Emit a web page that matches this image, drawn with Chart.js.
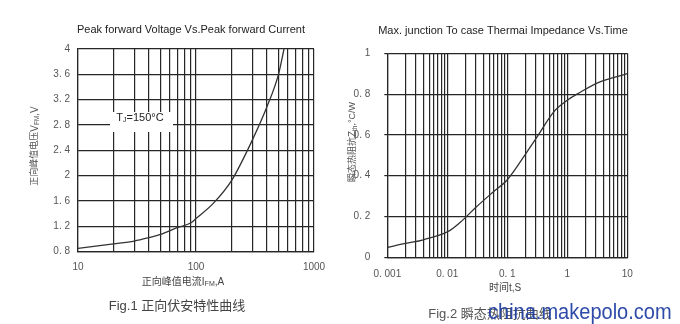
<!DOCTYPE html>
<html>
<head>
<meta charset="utf-8">
<script src="https://cdn.jsdelivr.net/npm/chart.js@4"></script>
<style>
  body { margin: 0; background: #fff; }
  #wrap { position: relative; width: 680px; height: 324px; overflow: hidden; }
  canvas { position: absolute; top: 0; }
</style>
</head>
<body>
<div id="wrap">
  <canvas id="chart-vf" width="340" height="324" style="left:0"></canvas>
  <canvas id="chart-zth" width="340" height="324" style="left:340px"></canvas>
</div>
<script>
// Fig.1 forward current (A) vs peak forward voltage (V), Tj=150C
var currentA = [10, 20, 30, 40, 50, 70, 90, 100, 140, 200, 300, 400, 500, 557];
var voltageV = [0.85, 0.92, 0.965, 1.02, 1.07, 1.18, 1.25, 1.32, 1.56, 1.92, 2.56, 3.09, 3.6, 4.0];

// Fig.2 time (s) vs transient thermal impedance (C/W)
var timeS = [0.001, 0.002, 0.004, 0.01, 0.0165, 0.03, 0.058, 0.1, 0.2, 0.33, 0.6, 1, 1.45, 3.5, 10];
var zthCW = [0.048, 0.068, 0.086, 0.125, 0.172, 0.245, 0.32, 0.38, 0.505, 0.6, 0.714, 0.77, 0.80, 0.86, 0.90];

// tick positions and labels
var vfYTicks = [0.8, 1.2, 1.6, 2, 2.4, 2.8, 3.2, 3.6, 4];
var vfYLabels = ["0. 8", "1. 2", "1. 6", "2", "2. 4", "2. 8", "3. 2", "3. 6", "4"];
var vfXTicks = [10, 20, 30, 40, 50, 60, 70, 80, 90, 100, 200, 300, 400, 500, 600, 700, 800, 900, 1000];
var vfXLabelVals = [10, 100, 1000];
var vfXLabels = ["10", "100", "1000"];

var zthYTicks = [0, 0.2, 0.4, 0.6, 0.8, 1];
var zthYLabels = ["0", "0. 2", "0. 4", "0. 6", "0. 8", "1"];
var zthXTicks = [
  0.001, 0.002, 0.003, 0.004, 0.005, 0.006, 0.007, 0.008, 0.009,
  0.01, 0.02, 0.03, 0.04, 0.05, 0.06, 0.07, 0.08, 0.09,
  0.1, 0.2, 0.3, 0.4, 0.5, 0.6, 0.7, 0.8, 0.9,
  1, 2, 3, 4, 5, 6, 7, 8, 9, 10
];
var zthXLabelVals = [0.001, 0.01, 0.1, 1, 10];
var zthXLabels = ["0. 001", "0. 01", "0. 1", "1", "10"];

var gridColor = "#262626";
var gridWidth = 1.2;
var tickFont = { family: "Liberation Sans", size: 10 };
var FONT = "'Liberation Sans', 'Noto Sans CJK SC'";

// draws text pieces in a row, some of them as subscripts
function drawRich(ctx, x, y, parts, color) {
  var total = 0;
  parts.forEach(function (p) {
    ctx.font = p.s + "px " + FONT;
    p.w = ctx.measureText(p.t).width;
    total += p.w;
  });
  var cx = x - total / 2;
  ctx.fillStyle = color;
  ctx.textBaseline = "middle";
  ctx.textAlign = "left";
  parts.forEach(function (p) {
    ctx.font = p.s + "px " + FONT;
    ctx.fillText(p.t, cx, y + (p.sub ? 2.5 : 0));
    cx += p.w;
  });
}

function textPlugin(id, drawFn) {
  return { id: id, afterDraw: function (chart) {
    var ctx = chart.ctx;
    ctx.save();
    drawFn(ctx, chart);
    ctx.restore();
  } };
}

function setTicks(list) {
  return function (scale) {
    scale.ticks = list.map(function (v) { return { value: v }; });
  };
}

function fixSize(prop, size) {
  return function (scale) { scale[prop] = size; };
}

var vfText = textPlugin("vfText", function (ctx) {
  ctx.font = "11px " + FONT;
  ctx.fillStyle = "#222";
  ctx.textAlign = "center";
  ctx.textBaseline = "middle";
  ctx.fillText("Peak forward Voltage Vs.Peak forward Current", 191, 30);

  // Tj label box
  ctx.fillStyle = "#fff";
  ctx.fillRect(110, 112, 63, 20);
  drawRich(ctx, 140, 118, [
    { t: "T", s: 11 }, { t: "J", s: 7, sub: true }, { t: "=150°C", s: 11 }
  ], "#222");

  drawRich(ctx, 183, 282, [
    { t: "正向峰值电流", s: 10 }, { t: "I", s: 10 }, { t: "FM", s: 7, sub: true }, { t: ",A", s: 10 }
  ], "#444");

  ctx.save();
  ctx.translate(35, 146);
  ctx.rotate(-Math.PI / 2);
  drawRich(ctx, 0, 0, [
    { t: "正向峰值电压", s: 9 }, { t: "V", s: 10 }, { t: "FM", s: 6.5, sub: true }, { t: ",V", s: 10 }
  ], "#555");
  ctx.restore();

  drawRich(ctx, 177, 306, [
    { t: "Fig.1 ", s: 13 }, { t: "正向伏安特性曲线", s: 13 }
  ], "#444");
});

var zthText = textPlugin("zthText", function (ctx) {
  ctx.font = "11px " + FONT;
  ctx.fillStyle = "#222";
  ctx.textAlign = "center";
  ctx.textBaseline = "middle";
  ctx.fillText("Max. junction To case Thermai Impedance Vs.Time", 163, 31);

  drawRich(ctx, 165, 288, [{ t: "时间t,S", s: 10 }], "#444");

  ctx.save();
  ctx.translate(13, 142);
  ctx.rotate(-Math.PI / 2);
  drawRich(ctx, 0, 0, [
    { t: "瞬态热阻抗", s: 9 }, { t: "Z", s: 10 }, { t: "th", s: 6.5, sub: true }, { t: ",°C/W", s: 9 }
  ], "#555");
  ctx.restore();

  drawRich(ctx, 150, 314, [
    { t: "Fig.2 ", s: 13 }, { t: "瞬态热阻抗曲线", s: 13 }
  ], "#555");

  // site watermark over the caption
  ctx.save();
  ctx.translate(148, 319);
  ctx.scale(0.91, 1);
  ctx.font = "22px 'Liberation Sans'";
  ctx.fillStyle = "rgba(35,65,165,0.95)";
  ctx.textAlign = "left";
  ctx.textBaseline = "alphabetic";
  ctx.fillText("china.makepolo.com", 0, 0);
  ctx.restore();
});

function lineData(xs, ys) {
  return xs.map(function (x, i) { return { x: x, y: ys[i] }; });
}

var vfChart = new Chart(document.getElementById("chart-vf"), {
  type: "line",
  data: {
    datasets: [{
      data: lineData(currentA, voltageV),
      borderColor: "#333",
      borderWidth: 1.3,
      pointRadius: 0,
      cubicInterpolationMode: "monotone",
      fill: false,
    }],
  },
  options: {
    responsive: false,
    animation: false,
    layout: { padding: { top: 49, right: 26, bottom: 0, left: 0 } },
    plugins: { legend: { display: false }, tooltip: { enabled: false } },
    scales: {
      x: {
        type: "logarithmic",
        min: 10,
        max: 1000,
        afterBuildTicks: setTicks(vfXTicks),
        afterFit: fixSize("height", 72.5),
        grid: { color: gridColor, lineWidth: gridWidth, drawTicks: false },
        border: { color: gridColor, width: gridWidth },
        ticks: {
          autoSkip: false, maxRotation: 0, padding: 10, color: "#555", font: tickFont,
          callback: function (v) {
            var i = vfXLabelVals.indexOf(v);
            return i >= 0 ? vfXLabels[i] : "";
          },
        },
      },
      y: {
        type: "linear",
        min: 0.8,
        max: 4,
        afterBuildTicks: setTicks(vfYTicks),
        afterFit: fixSize("width", 78),
        grid: { color: gridColor, lineWidth: gridWidth, drawTicks: false },
        border: { color: gridColor, width: gridWidth },
        ticks: {
          padding: 8, color: "#555", font: tickFont,
          callback: function (v) {
            var i = vfYTicks.indexOf(v);
            return i >= 0 ? vfYLabels[i] : "";
          },
        },
      },
    },
  },
  plugins: [vfText],
});

var zthChart = new Chart(document.getElementById("chart-zth"), {
  type: "line",
  data: {
    datasets: [{
      data: lineData(timeS, zthCW),
      borderColor: "#333",
      borderWidth: 1.3,
      pointRadius: 0,
      tension: 0.35,
      fill: false,
    }],
  },
  options: {
    responsive: false,
    animation: false,
    layout: { padding: { top: 53.3, right: 52.7, bottom: 0, left: 0 } },
    plugins: { legend: { display: false }, tooltip: { enabled: false } },
    scales: {
      x: {
        type: "logarithmic",
        min: 0.001,
        max: 10,
        afterBuildTicks: setTicks(zthXTicks),
        afterFit: fixSize("height", 66.7),
        grid: { color: gridColor, lineWidth: gridWidth, drawTicks: false },
        border: { color: gridColor, width: gridWidth },
        ticks: {
          autoSkip: false, maxRotation: 0, padding: 11, color: "#555", font: tickFont,
          callback: function (v) {
            var i = zthXLabelVals.indexOf(v);
            return i >= 0 ? zthXLabels[i] : "";
          },
        },
      },
      y: {
        type: "linear",
        min: 0,
        max: 1,
        afterBuildTicks: setTicks(zthYTicks),
        afterFit: fixSize("width", 47.3),
        grid: { color: gridColor, lineWidth: gridWidth, tickLength: 3 },
        border: { color: gridColor, width: gridWidth },
        ticks: {
          padding: 14, color: "#555", font: tickFont,
          callback: function (v) {
            var i = zthYTicks.indexOf(v);
            return i >= 0 ? zthYLabels[i] : "";
          },
        },
      },
    },
  },
  plugins: [zthText],
});
</script>
</body>
</html>
